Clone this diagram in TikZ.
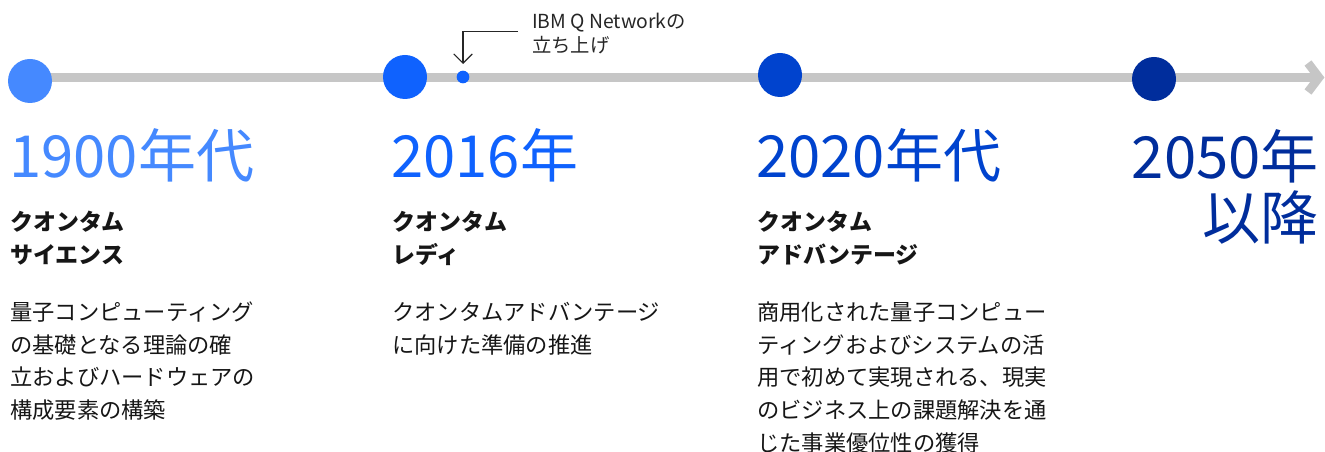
\documentclass[tikz,border=0pt]{standalone}
\usepackage{fontspec}
\setmainfont{Noto Sans CJK JP}
\newfontfamily\jp{Noto Sans CJK JP}
\usetikzlibrary{arrows.meta}
\definecolor{lineg}{HTML}{C6C6C6}
\definecolor{bA}{HTML}{4589FF}
\definecolor{bB}{HTML}{0F62FE}
\definecolor{bC}{HTML}{0043CE}
\definecolor{bD}{HTML}{002D9C}
\definecolor{txt}{HTML}{161616}
\definecolor{ann}{HTML}{262626}
\tikzset{
  dot/.style={circle,fill=#1,draw=none,minimum size=33pt,inner sep=0pt},
  year/.style={inner sep=0pt,text=#1,font=\jp\fontsize{43.5pt}{46pt}\selectfont},
  ttl/.style={inner sep=0pt,align=left,text=txt,font=\jp\bfseries\fontsize{17.2pt}{24.75pt}\selectfont},
  body/.style={inner sep=0pt,align=left,text=txt,font=\jp\fontsize{16.7pt}{24.4pt}\selectfont},
  note/.style={inner sep=0pt,align=left,text=ann,font=\jp\fontsize{14.5pt}{18pt}\selectfont},
}
\begin{document}
\begin{tikzpicture}[x=0.75pt,y=-0.75pt]
\useasboundingbox (0,0) rectangle (1325,452);
% timeline
\coordinate (ls) at (30,77.5);
\coordinate (le) at (1318,77.5);
\draw[lineg,line width=6.5pt] (ls) -- (le);
\draw[lineg,line width=6.5pt] (1308,63) -- (1319,77.5) -- (1308,92);
% dots
\node[dot=bA] (d1) at (30,81) {};
\node[dot=bB] (d2) at (405,77) {};
\node[dot=bB,minimum size=9.5pt] (dm) at (463,77) {};
\node[dot=bC] (d3) at (780,75) {};
\node[dot=bD] (d4) at (1154,79) {};
% annotation
\coordinate (ac) at (518,31.5);
\draw[ann,line width=0.8pt,-{Straight Barb[length=7pt,width=14pt]}] (ac) -- (463,31.5) -- (463,64);
\node[note,anchor=base west] (nt) at (532,53) {IBM Q Networkの\\立ち上げ};
% years
\node[year=bA,anchor=base west] (y1) at (9,178) {1900年代};
\node[year=bB,anchor=base west] (y2) at (391,178) {2016年};
\node[year=bC,anchor=base west] (y3) at (756,178) {2020年代};
\node[year=bD,anchor=base east,align=right] (y4) at (1319,240) {2050年\\以降};
% titles (anchor = baseline of last line)
\node[ttl,anchor=base west] (t1) at (10,264) {クオンタム\\サイエンス};
\node[ttl,anchor=base west] (t2) at (392,264) {クオンタム\\レディ};
\node[ttl,anchor=base west] (t3) at (757,264) {クオンタム\\アドバンテージ};
% bodies (anchor = baseline of last line)
\node[body,anchor=base west] (b1) at (10,418.5) {量子コンピューティング\\の基礎となる理論の確\\立およびハードウェアの\\構成要素の構築};
\node[body,anchor=base west] (b2) at (392,353.5) {クオンタムアドバンテージ\\に向けた準備の推進};
\node[body,anchor=base west] (b3) at (757,451) {商用化された量子コンピュー\\ティングおよびシステムの活\\用で初めて実現される、現実\\のビジネス上の課題解決を通\\じた事業優位性の獲得};
\end{tikzpicture}
\end{document}
